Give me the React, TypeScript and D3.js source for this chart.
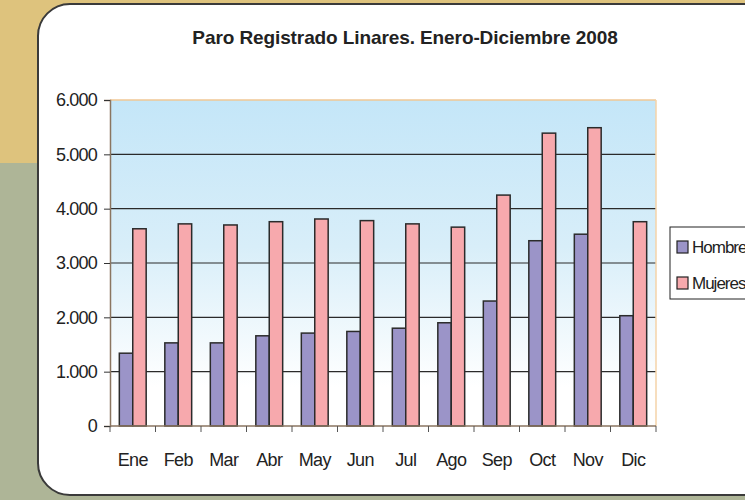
import { useEffect, useRef } from 'react'
import * as d3 from 'd3'

const months = ['Ene', 'Feb', 'Mar', 'Abr', 'May', 'Jun', 'Jul', 'Ago', 'Sep', 'Oct', 'Nov', 'Dic']
const series = ['Hombres', 'Mujeres']
const hombres = [1340, 1530, 1530, 1660, 1710, 1740, 1800, 1900, 2300, 3410, 3530, 2030]
const mujeres = [3630, 3720, 3700, 3760, 3810, 3780, 3720, 3660, 4250, 5390, 5490, 3760]
const yTicks = [0, 1000, 2000, 3000, 4000, 5000, 6000]
const colors = ['#9b94c8', '#f7a9ad']

function App() {
  const svgRef = useRef<SVGSVGElement>(null)

  useEffect(() => {
    const width = 745
    const height = 500
    const plot = { left: 110, right: 656, top: 100, bottom: 426 }

    const svg = d3.select(svgRef.current)
    svg.selectAll('*').remove()
    svg.attr('width', width).attr('height', height)

    // page background
    svg.append('rect').attr('width', width).attr('height', height).attr('fill', '#aeb597')
    svg.append('rect').attr('width', width).attr('height', 163).attr('fill', '#dec37d')

    // white rounded panel
    svg.append('rect')
      .attr('x', 38).attr('y', 4)
      .attr('width', 780).attr('height', 491)
      .attr('rx', 32)
      .attr('fill', '#fff')
      .attr('stroke', '#3a3a3a')
      .attr('stroke-width', 2)

    svg.append('text')
      .attr('x', 405).attr('y', 44)
      .attr('text-anchor', 'middle')
      .attr('font-family', 'Liberation Sans, Arial, sans-serif')
      .attr('font-weight', 'bold')
      .attr('font-size', 19)
      .attr('letter-spacing', -0.1)
      .attr('fill', '#222')
      .text('Paro Registrado Linares. Enero-Diciembre 2008')

    const defs = svg.append('defs')
    const grad = defs.append('linearGradient')
      .attr('id', 'plotBg').attr('x1', 0).attr('y1', 0).attr('x2', 0).attr('y2', 1)
    grad.append('stop').attr('offset', '0%').attr('stop-color', '#c4e6f8')
    grad.append('stop').attr('offset', '45%').attr('stop-color', '#d8eef9')
    grad.append('stop').attr('offset', '88%').attr('stop-color', '#ffffff')
    grad.append('stop').attr('offset', '100%').attr('stop-color', '#ffffff')

    const x = d3.scaleBand()
      .domain(months)
      .range([plot.left, plot.right])
      .paddingInner(0.41)
      .paddingOuter(0.205)

    const xSub = d3.scaleBand()
      .domain(series)
      .range([0, x.bandwidth()])

    const y = d3.scaleLinear()
      .domain([0, 6000])
      .range([plot.bottom, plot.top])

    svg.append('rect')
      .attr('x', plot.left).attr('y', plot.top)
      .attr('width', plot.right - plot.left).attr('height', plot.bottom - plot.top)
      .attr('fill', 'url(#plotBg)')

    // gridlines
    svg.append('g')
      .selectAll('line')
      .data(yTicks.filter(d => d > 0 && d < 6000))
      .join('line')
      .attr('x1', plot.left).attr('x2', plot.right)
      .attr('y1', d => y(d)).attr('y2', d => y(d))
      .attr('stroke', '#2a2a2a')
      .attr('stroke-width', 1.2)

    // frame: top and right edges peach
    svg.append('line')
      .attr('x1', plot.left).attr('x2', plot.right)
      .attr('y1', plot.top).attr('y2', plot.top)
      .attr('stroke', '#f0c794').attr('stroke-width', 1.5)
    svg.append('line')
      .attr('x1', plot.right).attr('x2', plot.right)
      .attr('y1', plot.top).attr('y2', plot.bottom)
      .attr('stroke', '#f5d3a8').attr('stroke-width', 1.5)

    // bars
    const data = months.map((m, i) => ({ month: m, values: [hombres[i], mujeres[i]] }))
    svg.append('g')
      .selectAll('g')
      .data(data)
      .join('g')
      .attr('transform', d => `translate(${x(d.month)},0)`)
      .selectAll('rect')
      .data(d => d.values.map((v, j) => ({ key: series[j], v, j })))
      .join('rect')
      .attr('x', d => xSub(d.key) as number)
      .attr('y', d => y(d.v))
      .attr('width', xSub.bandwidth())
      .attr('height', d => y(0) - y(d.v))
      .attr('fill', d => colors[d.j])
      .attr('stroke', '#2b2b2b')
      .attr('stroke-width', 1.5)

    // y axis
    const yAxis = svg.append('g')
      .attr('transform', `translate(${plot.left},0)`)
      .call(d3.axisLeft(y).tickValues(yTicks).tickSize(6).tickPadding(7)
        .tickFormat(d => d3.format(',')(d as number).replace(/,/g, '.')))
    yAxis.select('.domain').attr('stroke', '#8a7560').attr('stroke-width', 1.5)
    yAxis.selectAll('.tick line').attr('stroke', '#333')
    yAxis.selectAll('text')
      .attr('font-family', 'Liberation Sans, Arial, sans-serif')
      .attr('font-size', 18)
      .attr('letter-spacing', -0.8)
      .attr('fill', '#222')

    // x axis: ticks at group boundaries
    const step = x.step()
    const boundaries = d3.range(months.length + 1).map(i => plot.left + i * step)
    svg.append('line')
      .attr('x1', plot.left).attr('x2', plot.right)
      .attr('y1', plot.bottom).attr('y2', plot.bottom)
      .attr('stroke', '#8a7560').attr('stroke-width', 1.5)
    svg.append('g')
      .selectAll('line')
      .data(boundaries)
      .join('line')
      .attr('x1', d => d).attr('x2', d => d)
      .attr('y1', plot.bottom).attr('y2', plot.bottom + 6)
      .attr('stroke', '#555')
    svg.append('g')
      .selectAll('text')
      .data(months)
      .join('text')
      .attr('x', d => (x(d) as number) + x.bandwidth() / 2)
      .attr('y', 466)
      .attr('text-anchor', 'middle')
      .attr('font-family', 'Liberation Sans, Arial, sans-serif')
      .attr('font-size', 18)
      .attr('letter-spacing', -0.6)
      .attr('fill', '#222')
      .text(d => d)

    // legend
    const legend = svg.append('g')
    legend.append('rect')
      .attr('x', 670).attr('y', 227)
      .attr('width', 120).attr('height', 72)
      .attr('fill', '#fff')
      .attr('stroke', '#222')
      .attr('stroke-width', 1)
    const items = legend.selectAll('g.item')
      .data(series)
      .join('g')
      .attr('class', 'item')
      .attr('transform', (_, i) => `translate(677,${241 + i * 36})`)
    items.append('rect')
      .attr('width', 11).attr('height', 12)
      .attr('fill', (_, i) => colors[i])
      .attr('stroke', '#222')
      .attr('stroke-width', 1.2)
    items.append('text')
      .attr('x', 15).attr('y', 12)
      .attr('font-family', 'Liberation Sans, Arial, sans-serif')
      .attr('font-size', 17)
      .attr('letter-spacing', -1)
      .attr('fill', '#222')
      .text(d => d)
  }, [])

  return (
    <svg ref={svgRef} style={{ position: 'absolute', left: 0, top: 0, display: 'block' }}></svg>
  )
}

export default App
